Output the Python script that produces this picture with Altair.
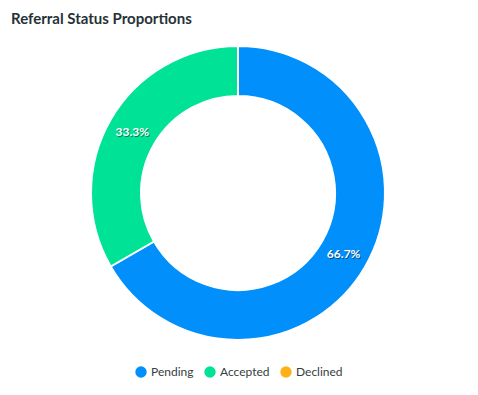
import altair as alt
import pandas as pd

statuses = ["Pending", "Accepted", "Declined"]
counts = [2, 1, 0]
colors = ["#008FFB", "#00E396", "#FEB019"]
order_idx = [0, 1, 2]

df = pd.DataFrame({"status": statuses, "count": counts, "ord": order_idx})

base = (
    alt.Chart(df)
    .transform_joinaggregate(total="sum(count)")
    .transform_calculate(pct="datum.count / datum.total")
    .transform_filter("datum.count > 0")
)

theta = alt.Theta("count:Q", stack=True)
order = alt.Order("ord:Q")

color = alt.Color(
    "status:N",
    scale=alt.Scale(domain=statuses, range=colors),
    legend=alt.Legend(
        title=None,
        orient="none",
        direction="horizontal",
        legendX=127,
        legendY=335,
        symbolType="circle",
        symbolSize=130,
        symbolStrokeWidth=0,
        labelFont="Lato",
        labelFontSize=12,
        labelColor="#373d3f",
        labelOffset=4,
        columnPadding=10,
    ),
)

arcs = base.mark_arc(outerRadius=147, innerRadius=97, stroke="white", strokeWidth=2).encode(
    theta=theta, color=color, order=order
)

shadow = base.mark_text(
    radius=122, font="Lato", fontSize=12, fontWeight="bold", color="#000000",
    opacity=0.45, dx=1, dy=1,
).encode(theta=theta, order=order, text=alt.Text("pct:Q", format=".1%"))

labels = base.mark_text(
    radius=122, font="Lato", fontSize=12, fontWeight="bold", color="white"
).encode(theta=theta, order=order, text=alt.Text("pct:Q", format=".1%"))

chart = (
    alt.layer(arcs, shadow, labels)
    .properties(
        width=460,
        height=324,
        padding={"top": 4, "left": 0, "right": 0, "bottom": 0},
        title=alt.Title(
            "Referral Status Proportions",
            anchor="start",
            font="Lato",
            fontSize=15,
            fontWeight="bold",
            color="#263238",
            dx=3,
        ),
    )
    .configure_view(stroke=None)
)

chart.save("out.html", embed_options={"renderer": "svg", "actions": False})
